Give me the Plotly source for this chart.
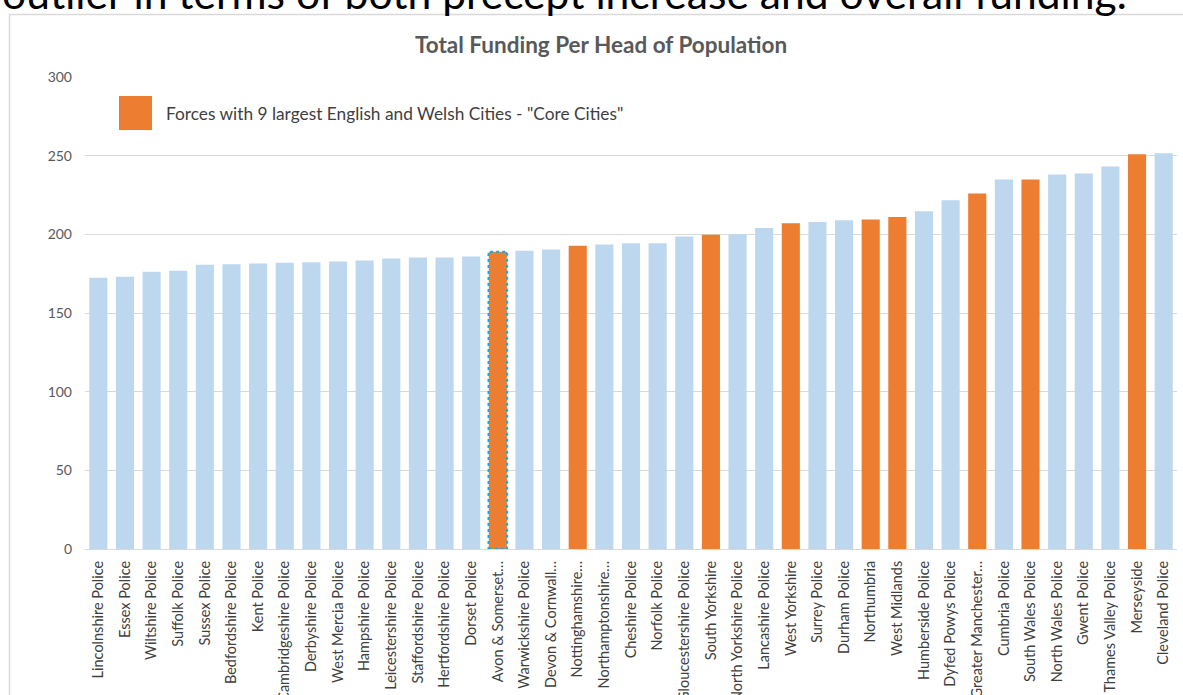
import plotly.graph_objects as go

# ---- data ----
forces = [
    "Lincolnshire Police", "Essex Police", "Wiltshire Police", "Suffolk Police",
    "Sussex Police", "Bedfordshire Police", "Kent Police", "Cambridgeshire Police",
    "Derbyshire Police", "West Mercia Police", "Hampshire Police",
    "Leicestershire Police", "Staffordshire Police", "Hertfordshire Police",
    "Dorset Police", "Avon & Somerset…", "Warwickshire Police", "Devon & Cornwall…",
    "Nottinghamshire…", "Northamptonshire…", "Cheshire Police", "Norfolk Police",
    "Gloucestershire Police", "South Yorkshire", "North Yorkshire Police",
    "Lancashire Police", "West Yorkshire", "Surrey Police", "Durham Police",
    "Northumbria", "West Midlands", "Humberside Police", "Dyfed Powys Police",
    "Greater Manchester…", "Cumbria Police", "South Wales Police",
    "North Wales Police", "Gwent Police", "Thames Valley Police", "Merseyside",
    "Cleveland Police",
]
funding = [
    172.4, 173.0, 176.2, 176.8, 180.6, 181.0, 181.5, 182.0, 182.2, 182.7,
    183.3, 184.6, 185.2, 185.3, 185.9, 189.0, 189.6, 190.3, 192.8, 193.5,
    194.3, 194.4, 198.6, 199.7, 200.0, 204.0, 207.1, 207.8, 208.9, 209.4,
    211.0, 214.7, 221.6, 225.9, 234.8, 234.9, 238.1, 238.7, 243.1, 250.9,
    251.6,
]
core_cities = {
    "Avon & Somerset…", "Nottinghamshire…", "South Yorkshire", "West Yorkshire",
    "Northumbria", "West Midlands", "Greater Manchester…", "South Wales Police",
    "Merseyside",
}
selected = "Avon & Somerset…"
y_ticks = [0, 50, 100, 150, 200, 250, 300]

chart_title = "Total Funding Per Head of Population"
legend_text = 'Forces with 9 largest English and Welsh Cities - "Core Cities"'
top_text = "outlier in terms of both precept increase and overall funding."

# ---- styling ----
BLUE = "#BDD7EE"
ORANGE = "#ED7D31"
W, H = 1183, 695
L, R, T, B = 85, 6, 77, 146
PW, PH = W - L - R, H - T - B


def px_x(p):
    return (p - L) / PW


def px_y(p):
    return (H - B - p) / PH


colors = [ORANGE if f in core_cities else BLUE for f in forces]

fig = go.Figure()
fig.add_trace(go.Bar(
    x=forces, y=funding, marker=dict(color=colors, line=dict(width=0)),
    hoverinfo="x+y", showlegend=False,
))

sel_i = forces.index(selected)
shapes = [
    # chart border
    dict(type="rect", xref="paper", yref="paper",
         x0=px_x(9.5), x1=px_x(1200), y0=px_y(760), y1=px_y(14.5),
         line=dict(color="#D9D9D9", width=1.5), fillcolor="rgba(0,0,0,0)", layer="below"),
    # legend swatch
    dict(type="rect", xref="paper", yref="paper",
         x0=px_x(119), x1=px_x(152), y0=px_y(130), y1=px_y(96),
         line=dict(width=0), fillcolor=ORANGE),
    # selection outline on Avon & Somerset
    dict(type="rect", xref="x", yref="y",
         x0=sel_i - 0.35, x1=sel_i + 0.35, y0=0, y1=funding[sel_i],
         line=dict(color="#00B0F0", width=2, dash="dot")),
]

annotations = [
    dict(text=chart_title, xref="paper", yref="paper", x=px_x(601), y=px_y(44),
         xanchor="center", yanchor="middle", showarrow=False,
         font=dict(family="Lato", size=22.5, color="#595959", weight="bold")),
    dict(text=legend_text, xref="paper", yref="paper", x=px_x(164), y=px_y(113),
         xanchor="left", yanchor="middle", showarrow=False,
         font=dict(family="Lato", size=17.3, color="#404040")),
    dict(text=top_text, xref="paper", yref="paper", x=px_x(0), y=px_y(20),
         xanchor="left", yanchor="bottom", showarrow=False,
         font=dict(family="Lato", size=42.6, color="#000000")),
]

fig.update_layout(
    width=W, height=H,
    margin=dict(l=L, r=R, t=T, b=B, pad=0, autoexpand=False),
    paper_bgcolor="white", plot_bgcolor="white",
    bargap=0.32,
    shapes=shapes, annotations=annotations,
    font=dict(family="Lato", color="#595959"),
)
fig.update_yaxes(
    range=[0, 300], tickvals=y_ticks, showgrid=True, gridcolor="#D9D9D9",
    gridwidth=1, zeroline=False, showline=False, ticks="", automargin=False,
    tickfont=dict(size=14, color="#595959"), ticklabelstandoff=12,
)
fig.update_xaxes(
    tickangle=-90, showline=True, linecolor="#D9D9D9", linewidth=1,
    ticks="", tickfont=dict(size=14.5, color="#404040"), ticklabelstandoff=5,
    range=[-0.5, len(forces) - 0.5], automargin=False,
)

fig.write_html(
    "out.html",
    config={"displayModeBar": False},
    post_script="document.body.style.margin='0';document.body.style.overflow='hidden';",
)
